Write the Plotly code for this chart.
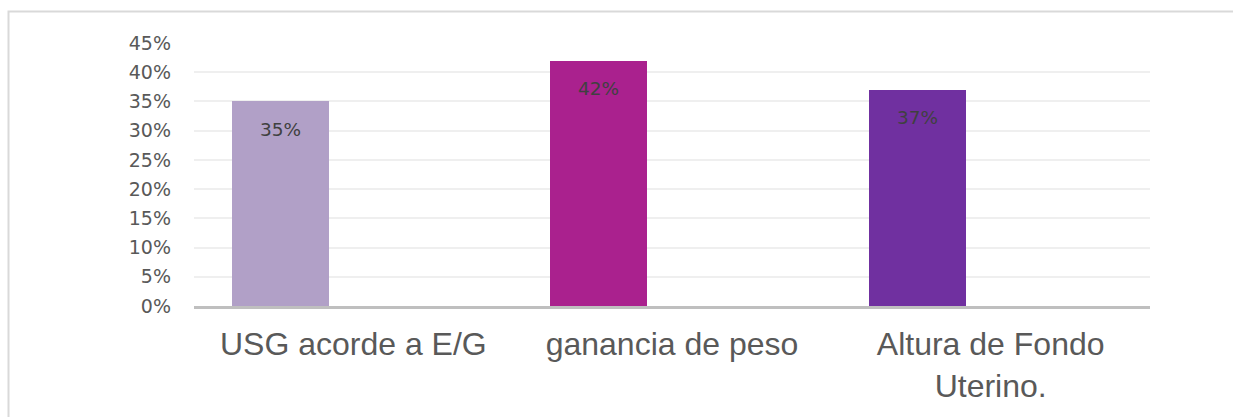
import plotly.graph_objects as go

# Indicator categories and the share of each
categories = ["USG acorde a E/G", "ganancia de peso", "Altura de Fondo Uterino."]
tick_labels = ["USG acorde a E/G", "ganancia de peso", "Altura de Fondo<br>Uterino."]
values = [0.35, 0.42, 0.37]
bar_colors = ["#B1A0C7", "#AA218E", "#7030A0"]

y_ticks = [0, 0.05, 0.10, 0.15, 0.20, 0.25, 0.30, 0.35, 0.40, 0.45]

W, H = 1233, 417
M_L, M_R, M_T, M_B = 194, 83, 43, 111

BAR_WIDTH = 0.305
BAR_OFFSET = -0.382

fig = go.Figure()
fig.add_trace(go.Bar(
    x=categories,
    y=values,
    width=BAR_WIDTH,
    offset=BAR_OFFSET,
    marker=dict(color=bar_colors, line=dict(width=0)),
    hoverinfo="skip",
))

# Value labels sit inside each bar, just below its top
for i, v in enumerate(values):
    fig.add_annotation(
        x=i + BAR_OFFSET + BAR_WIDTH / 2,
        y=v,
        xref="x", yref="y",
        text=f"{round(v * 100)}%",
        showarrow=False,
        yanchor="middle",
        yshift=-28,
        font=dict(family="DejaVu Sans", size=18.5, color="#404040"),
    )

# Light frame around the chart area
plot_w = W - M_L - M_R
plot_h = H - M_T - M_B
fig.add_shape(
    type="rect",
    xref="paper", yref="paper",
    x0=(8.5 - M_L) / plot_w, x1=(W + 10 - M_L) / plot_w,
    y0=-(H + 10 - (H - M_B)) / plot_h, y1=(H - M_B - 11.5) / plot_h,
    line=dict(color="#D9D9D9", width=2),
    fillcolor="rgba(0,0,0,0)",
    layer="below",
)

fig.update_layout(
    width=W, height=H,
    margin=dict(l=M_L, r=M_R, t=M_T, b=M_B, pad=0),
    paper_bgcolor="white",
    plot_bgcolor="white",
    showlegend=False,
    bargap=0,
    xaxis=dict(
        type="category",
        categoryorder="array",
        categoryarray=categories,
        tickmode="array",
        tickvals=categories,
        ticktext=tick_labels,
        showgrid=False,
        showline=True,
        linecolor="#BFBFBF",
        linewidth=2.5,
        ticks="",
        ticklabelstandoff=8,
        tickfont=dict(family="Liberation Sans", size=32, color="#595959"),
        range=[-0.5, 2.5],
        fixedrange=True,
    ),
    yaxis=dict(
        range=[0, 0.45],
        tickmode="array",
        tickvals=y_ticks,
        ticktext=[f"{round(t * 100)}%" for t in y_ticks],
        showgrid=True,
        gridcolor="#EFEFEF",
        gridwidth=2,
        zeroline=False,
        showline=False,
        ticks="",
        ticklabelstandoff=22,
        tickfont=dict(family="DejaVu Sans", size=19, color="#595959"),
        fixedrange=True,
    ),
)

fig.write_html("out.html")
